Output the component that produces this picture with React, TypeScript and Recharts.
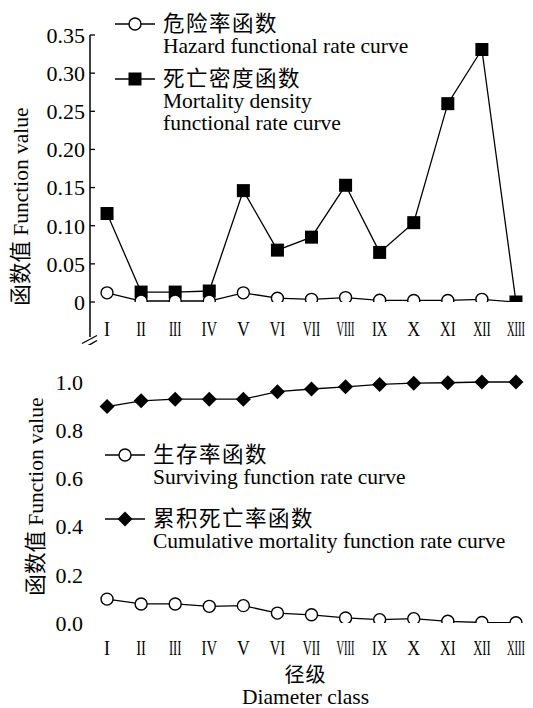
import React from 'react';
import { LineChart, Line, XAxis, YAxis, Legend } from 'recharts';

// ---------- data ----------
const categories = ['I', 'II', 'III', 'IV', 'V', 'VI', 'VII', 'VIII', 'IX', 'X', 'XI', 'XII', 'XIII'];
const hazardRate = [0.012, 0.0013, 0.0013, 0.0013, 0.012, 0.005, 0.0035, 0.0058, 0.0022, 0.002, 0.002, 0.0035, 0];
const mortalityDensity = [0.116, 0.013, 0.013, 0.0144, 0.146, 0.068, 0.085, 0.153, 0.065, 0.104, 0.26, 0.331, 0];
const survivalRate = [0.099, 0.079, 0.079, 0.069, 0.072, 0.041, 0.034, 0.021, 0.014, 0.018, 0.007, 0.002, 0.001];
const cumulativeMortality = [0.897, 0.921, 0.928, 0.928, 0.928, 0.959, 0.97, 0.979, 0.989, 0.994, 0.996, 0.999, 0.999];

const upperTicks = [0, 0.05, 0.1, 0.15, 0.2, 0.25, 0.3, 0.35];
const lowerTicks = [0, 0.2, 0.4, 0.6, 0.8, 1.0];
const lowerMarkTicks = [0, 1 / 6, 2 / 6, 3 / 6, 4 / 6, 5 / 6, 1];
const centerTicks = categories.map((_, i) => i + 1);
const boundaryTicks = categories.slice(1).map((_, i) => i + 1.5);

const upperLegend = [
  { key: 'hazard', marker: 'circle', lines: ['危险率函数', 'Hazard functional rate curve'] },
  { key: 'density', marker: 'square', lines: ['死亡密度函数', 'Mortality density', 'functional rate curve'] },
];
const lowerLegend = [
  { key: 'survival', marker: 'circle', lines: ['生存率函数', 'Surviving function rate curve'] },
  { key: 'cumulative', marker: 'diamond', lines: ['累积死亡率函数', 'Cumulative mortality function rate curve'] },
];

const upperData = categories.map((c, i) => ({
  idx: i + 1,
  name: c,
  hazard: hazardRate[i],
  density: mortalityDensity[i],
}));
const lowerData = categories.map((c, i) => ({
  idx: i + 1,
  name: c,
  survival: survivalRate[i],
  cumulative: cumulativeMortality[i],
}));

// ---------- styles ----------
const FONT = "'Liberation Serif', 'Times New Roman', 'Noto Sans CJK SC', serif";
const INK = '#000';
const FS = 21.5;
const TICK_FS = 22;

// ---------- markers ----------
const Marker = ({ type, cx, cy }: { type: string; cx: number; cy: number }) => {
  if (type === 'square') {
    return <rect x={cx - 6.5} y={cy - 6.5} width={13} height={13} fill={INK} />;
  }
  if (type === 'diamond') {
    return (
      <polygon
        points={`${cx},${cy - 7.5} ${cx + 7.5},${cy} ${cx},${cy + 7.5} ${cx - 7.5},${cy}`}
        fill={INK}
      />
    );
  }
  return <circle cx={cx} cy={cy} r={6} fill="#fff" stroke={INK} strokeWidth={1.4} />;
};

const makeDot = (type: string, skipLast = false) => (p: any) => {
  const key = `${type}-${p.index}`;
  if (p.cx == null || p.cy == null || (skipLast && p.index === categories.length - 1)) {
    return <g key={key} />;
  }
  return (
    <g key={key}>
      <Marker type={type} cx={p.cx} cy={p.cy} />
    </g>
  );
};

// ---------- ticks ----------
const makeRomanTick = (baseline: number) => (props: any) => {
  const { x, y, payload } = props;
  const label = categories[payload.value - 1] ?? '';
  const sx = label.length <= 1 ? 0.85 : label.length === 2 ? 0.7 : label.length === 3 ? 0.6 : 0.5;
  return (
    <g transform={`translate(${x},${y + baseline})`}>
      <text transform={`scale(${sx},1)`} textAnchor="middle" fontFamily={FONT} fontSize={21} fill={INK}>
        {label}
      </text>
    </g>
  );
};

// ---------- legend ----------
const makeLegend = (items: typeof upperLegend, gap: number) => () => (
  <div style={{ fontFamily: FONT, fontSize: FS, color: INK }}>
    {items.map((it, k) => (
      <div key={it.key} style={{ display: 'flex', alignItems: 'flex-start', marginBottom: k === 0 ? gap : 0 }}>
        <svg width={44} height={22} style={{ flex: 'none', overflow: 'visible' }}>
          <line x1={2} y1={11} x2={42} y2={11} stroke={INK} strokeWidth={1.4} />
          <Marker type={it.marker} cx={22} cy={11} />
        </svg>
        <div style={{ marginLeft: 6 }}>
          {it.lines.map((l, j) => (
            <div
              key={j}
              style={{
                height: 22,
                lineHeight: '22px',
                whiteSpace: 'nowrap',
                letterSpacing: j === 0 ? 1.5 : 0,
              }}
            >
              {l}
            </div>
          ))}
        </div>
      </div>
    ))}
  </div>
);

// ---------- axis titles / decorations ----------
const upperYTitle = (p: any) => {
  const vb = p.viewBox;
  const ax = vb.x + vb.width;
  const bottom = vb.y + vb.height;
  return (
    <g>
      <text
        transform={`translate(${vb.x - 9},${vb.y + vb.height / 2 + 38}) rotate(-90)`}
        textAnchor="middle"
        dominantBaseline="central"
        fontFamily={FONT}
        fontSize={FS}
        fill={INK}
      >
        函数值 Function value
      </text>
      <line x1={ax} y1={bottom} x2={ax} y2={bottom + 35} stroke={INK} strokeWidth={1.5} />
      <line x1={ax - 8} y1={bottom + 41.5} x2={ax + 7} y2={bottom + 33.5} stroke={INK} strokeWidth={1.4} />
      <line x1={ax - 7} y1={bottom + 46.5} x2={ax + 7} y2={bottom + 38.5} stroke={INK} strokeWidth={1.4} />
    </g>
  );
};

const lowerYTitle = (p: any) => {
  const vb = p.viewBox;
  return (
    <text
      transform={`translate(${vb.x + 6},${vb.y + vb.height / 2 + 11}) rotate(-90)`}
      textAnchor="middle"
      dominantBaseline="central"
      fontFamily={FONT}
      fontSize={FS}
      fill={INK}
    >
      函数值 Function value
    </text>
  );
};

const lowerXTitle = (p: any) => {
  const vb = p.viewBox;
  const cx = vb.x + vb.width / 2 - 6;
  return (
    <g fontFamily={FONT} fill={INK}>
      <text x={cx} y={vb.y + 59} textAnchor="middle" letterSpacing={1} fontSize={20}>
        径级
      </text>
      <text x={cx} y={vb.y + 81} textAnchor="middle" fontSize={FS}>
        Diameter class
      </text>
    </g>
  );
};

const axisStyle = { stroke: INK, strokeWidth: 1.5 };
const tickLineStyle = { stroke: INK, strokeWidth: 1.3 };

export default function App() {
  return (
    <div style={{ position: 'absolute', left: 0, top: 0, width: 533, height: 708, background: '#fff' }}>
      {/* Upper panel */}
      <div style={{ position: 'absolute', left: 0, top: 0 }}>
        <LineChart width={533} height={345} data={upperData} margin={{ top: 35, right: 0, bottom: 13, left: 30 }}>
          <XAxis
            xAxisId="marks"
            type="number"
            dataKey="idx"
            domain={[0.5, 13.5]}
            allowDataOverflow
            ticks={boundaryTicks}
            interval={0}
            mirror
            height={0}
            tickSize={5}
            tickFormatter={() => ''}
            axisLine={axisStyle}
            tickLine={tickLineStyle}
          />
          <XAxis
            xAxisId="lab"
            type="number"
            dataKey="idx"
            domain={[0.5, 13.5]}
            allowDataOverflow
            ticks={centerTicks}
            interval={0}
            height={30}
            tickSize={0}
            tickMargin={0}
            axisLine={false}
            tickLine={false}
            tick={makeRomanTick(34)}
          />
          <YAxis
            yAxisId="v"
            type="number"
            domain={[0, 0.35]}
            allowDataOverflow
            ticks={upperTicks}
            interval={0}
            width={60}
            tickSize={-5}
            tickMargin={10}
            tickFormatter={(v: number) => (v === 0 ? '0' : v.toFixed(2))}
            tick={{ fontFamily: FONT, fontSize: TICK_FS, fill: INK }}
            axisLine={axisStyle}
            tickLine={tickLineStyle}
            label={{ content: upperYTitle }}
          />
          <Legend
            content={makeLegend(upperLegend, 11)}
            layout="horizontal"
            verticalAlign="middle"
            align="center"
            wrapperStyle={{ left: 113, top: 13, width: 400, right: 'auto', bottom: 'auto' }}
          />
          <Line
            xAxisId="lab"
            yAxisId="v"
            dataKey="density"
            stroke={INK}
            strokeWidth={1.3}
            dot={makeDot('square')}
            activeDot={false}
            isAnimationActive={false}
          />
          <Line
            xAxisId="lab"
            yAxisId="v"
            dataKey="hazard"
            stroke={INK}
            strokeWidth={1.3}
            dot={makeDot('circle', true)}
            activeDot={false}
            isAnimationActive={false}
          />
        </LineChart>
      </div>

      {/* Lower panel */}
      <div style={{ position: 'absolute', left: 0, top: 340 }}>
        <LineChart width={533} height={368} data={lowerData} margin={{ top: 8, right: 0, bottom: 0, left: 30 }}>
          <XAxis
            xAxisId="marks"
            type="number"
            dataKey="idx"
            domain={[0.5, 13.5]}
            allowDataOverflow
            ticks={boundaryTicks}
            interval={0}
            mirror
            height={0}
            tickSize={5}
            tickFormatter={() => ''}
            axisLine={axisStyle}
            tickLine={tickLineStyle}
          />
          <XAxis
            xAxisId="lab"
            type="number"
            dataKey="idx"
            domain={[0.5, 13.5]}
            allowDataOverflow
            ticks={centerTicks}
            interval={0}
            height={85}
            tickSize={0}
            tickMargin={0}
            axisLine={false}
            tickLine={false}
            tick={makeRomanTick(32)}
            label={{ content: lowerXTitle }}
          />
          <YAxis
            yAxisId="m"
            type="number"
            domain={[0, 1.14]}
            allowDataOverflow
            ticks={lowerMarkTicks}
            interval={0}
            mirror
            width={0}
            tickSize={6}
            tickFormatter={() => ''}
            axisLine={axisStyle}
            tickLine={tickLineStyle}
          />
          <YAxis
            yAxisId="v"
            type="number"
            domain={[0, 1.14]}
            allowDataOverflow
            ticks={lowerTicks}
            interval={0}
            width={60}
            tickSize={0}
            tickMargin={7}
            tickFormatter={(v: number) => v.toFixed(1)}
            tick={{ fontFamily: FONT, fontSize: TICK_FS, fill: INK }}
            axisLine={false}
            tickLine={false}
            label={{ content: lowerYTitle }}
          />
          <Legend
            content={makeLegend(lowerLegend, 20)}
            layout="horizontal"
            verticalAlign="middle"
            align="center"
            wrapperStyle={{ left: 103, top: 104, width: 425, right: 'auto', bottom: 'auto' }}
          />
          <Line
            xAxisId="lab"
            yAxisId="v"
            dataKey="cumulative"
            stroke={INK}
            strokeWidth={1.3}
            dot={makeDot('diamond')}
            activeDot={false}
            isAnimationActive={false}
          />
          <Line
            xAxisId="lab"
            yAxisId="v"
            dataKey="survival"
            stroke={INK}
            strokeWidth={1.3}
            dot={makeDot('circle')}
            activeDot={false}
            isAnimationActive={false}
          />
        </LineChart>
      </div>
    </div>
  );
}
